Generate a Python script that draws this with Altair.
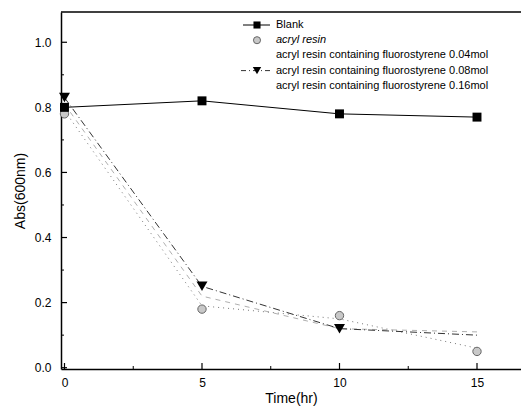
import altair as alt
import pandas as pd

# ---- data ----
times = [0, 5, 10, 15]
series_names = [
    "Blank",
    "acryl resin",
    "acryl resin containing fluorostyrene 0.04mol",
    "acryl resin containing fluorostyrene 0.08mol",
    "acryl resin containing fluorostyrene 0.16mol",
]
blank = [0.80, 0.82, 0.78, 0.77]
acryl = [0.78, 0.18, 0.16, 0.05]
fluoro_004 = [0.79, 0.19, 0.15, 0.06]
fluoro_008 = [0.83, 0.25, 0.12, 0.10]
fluoro_016 = [0.81, 0.22, 0.12, 0.11]

y_major = [0.0, 0.2, 0.4, 0.6, 0.8, 1.0]
y_minor = [0.1, 0.3, 0.5, 0.7, 0.9]
x_major = [0, 5, 10, 15]
x_minor = [2.5, 7.5, 12.5]

values = [blank, acryl, fluoro_004, fluoro_008, fluoro_016]
rows = []
for name, vals in zip(series_names, values):
    for t, v in zip(times, vals):
        rows.append({"series": name, "time": t, "abs": v})
df = pd.DataFrame(rows)

FONT = "Liberation Sans"
W, H = 460, 357
xscale = alt.Scale(domain=[-0.127, 16.6], nice=False, zero=False)
yscale = alt.Scale(domain=[-0.004, 1.093], nice=False, zero=False)

X = alt.X("time:Q", scale=xscale,
          axis=alt.Axis(title="Time(hr)", values=x_major, format="d"))
Y = alt.Y("abs:Q", scale=yscale,
          axis=alt.Axis(title="Abs(600nm)", values=y_major, format=".1f"))

base = alt.Chart(df).encode(x=X, y=Y)


def sel(name):
    return base.transform_filter(alt.datum.series == name)


blank_line = sel(series_names[0]).mark_line(color="black", strokeWidth=1)
blank_pts = sel(series_names[0]).mark_point(shape="square", size=80, filled=True,
                                            color="black", opacity=1)
acryl_pts = sel(series_names[1]).mark_point(shape="circle", size=70, filled=True,
                                            fill="#c8c8c8", stroke="#666666",
                                            strokeWidth=1, opacity=1)
f004_line = sel(series_names[2]).mark_line(color="#777777", strokeWidth=1,
                                           strokeDash=[1, 4])
f008_line = sel(series_names[3]).mark_line(color="#333333", strokeWidth=1,
                                           strokeDash=[7, 3, 1, 3])
f008_pts = sel(series_names[3]).transform_filter(alt.datum.time < 15).mark_point(
    shape="triangle-down", size=120, filled=True, color="black", opacity=1)
f016_line = sel(series_names[4]).mark_line(color="#9a9a9a", strokeWidth=0.8,
                                           strokeDash=[5, 5])

# inward ticks and top frame line
ymaj = alt.Chart(pd.DataFrame({"abs": y_major})).mark_rule(color="black", strokeWidth=1.2).encode(
    y=alt.Y("abs:Q", scale=yscale), x=alt.value(0), x2=alt.value(6))
ymin = alt.Chart(pd.DataFrame({"abs": y_minor})).mark_rule(color="black", strokeWidth=1).encode(
    y=alt.Y("abs:Q", scale=yscale), x=alt.value(0), x2=alt.value(3))
xmaj = alt.Chart(pd.DataFrame({"time": x_major})).mark_rule(color="black", strokeWidth=1.2).encode(
    x=alt.X("time:Q", scale=xscale), y=alt.value(H), y2=alt.value(H - 6))
xmin = alt.Chart(pd.DataFrame({"time": x_minor})).mark_rule(color="black", strokeWidth=1).encode(
    x=alt.X("time:Q", scale=xscale), y=alt.value(H), y2=alt.value(H - 3))
top_line = alt.Chart(pd.DataFrame({"k": [0]})).mark_rule(color="black", strokeWidth=1.5).encode(
    y=alt.value(0), x=alt.value(0), x2=alt.value(W))

# legend (inside the plot, top right)
leg = pd.DataFrame({
    "label": series_names,
    "row": list(range(len(series_names))),
    "italic": [False, True, False, False, False],
})
leg_base = alt.Chart(leg).transform_calculate(py="13 + datum.row * 15.2")
LY = alt.Y("py:Q", scale=None, axis=None)

leg_text_n = leg_base.transform_filter("!datum.italic").mark_text(
    align="left", baseline="middle", font=FONT, fontSize=11, color="black"
).encode(x=alt.value(215), y=LY, text="label:N")
leg_text_i = leg_base.transform_filter("datum.italic").mark_text(
    align="left", baseline="middle", font=FONT, fontSize=11, fontStyle="italic", color="black"
).encode(x=alt.value(215), y=LY, text="label:N")

leg_blank_line = leg_base.transform_filter("datum.row == 0").mark_rule(
    color="black", strokeWidth=1).encode(x=alt.value(182), x2=alt.value(209), y=LY)
leg_blank_pt = leg_base.transform_filter("datum.row == 0").mark_point(
    shape="square", size=50, filled=True, color="black", opacity=1).encode(x=alt.value(196), y=LY)
leg_acryl_pt = leg_base.transform_filter("datum.row == 1").mark_point(
    shape="circle", size=50, filled=True, fill="#c8c8c8", stroke="#666666",
    strokeWidth=1, opacity=1).encode(x=alt.value(196), y=LY)
leg_f008_line = leg_base.transform_filter("datum.row == 3").mark_rule(
    color="#333333", strokeWidth=1, strokeDash=[5, 3, 1, 3]).encode(
    x=alt.value(180), x2=alt.value(211), y=LY)
leg_f008_pt = leg_base.transform_filter("datum.row == 3").mark_point(
    shape="triangle-down", size=70, filled=True, color="black", opacity=1).encode(x=alt.value(196), y=LY)

chart = alt.layer(
    f016_line, f004_line, f008_line, blank_line,
    acryl_pts, blank_pts, f008_pts,
    ymaj, ymin, xmaj, xmin, top_line,
    leg_blank_line, leg_f008_line, leg_blank_pt, leg_acryl_pt, leg_f008_pt,
    leg_text_n, leg_text_i,
).properties(
    width=W, height=H,
    autosize=alt.AutoSizeParams(type="none"),
    padding={"left": 53, "top": 4, "right": 0, "bottom": 38},
).configure_view(
    strokeWidth=0
).configure_axis(
    grid=False, ticks=False,
    domainColor="black", domainWidth=1.5,
    labelFont=FONT, labelFontSize=12, labelColor="black",
    titleFont=FONT, titleFontSize=14, titleColor="black", titleFontWeight="normal",
).configure_axisX(
    labelPadding=8, titlePadding=3
).configure_axisY(
    labelPadding=10, titlePadding=7
)

chart.save("out.html", embed_options={"renderer": "svg", "actions": False})
